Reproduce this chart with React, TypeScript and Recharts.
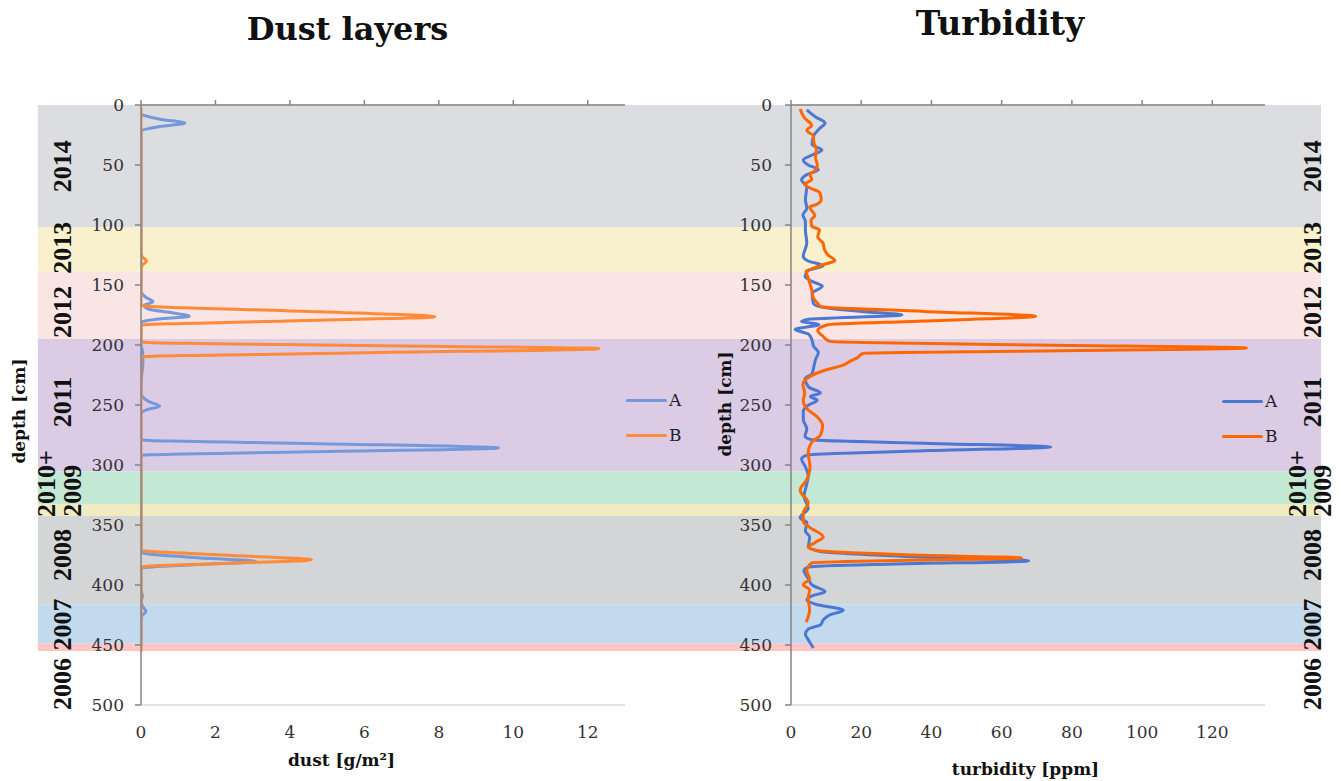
import React from "react";
import {
  LineChart,
  Line,
  XAxis,
  YAxis,
  CartesianGrid,
  ReferenceArea,
  ReferenceDot,
  Legend,
} from "recharts";

// depth [cm], value
const dustA: [number, number][] = [
  [8, 0], [12, 0.55], [15, 1.18], [18, 0.5], [22, 0], [60, 0], [120, 0], [155, 0],
  [160, 0.12], [164, 0.32], [167, 0.08], [170, 0.2], [173, 0.8], [176, 1.3], [178, 0.6], [181, 0],
  [200, 0], [205, 0.04], [215, 0.05], [225, 0.02], [240, 0], [247, 0.2], [251, 0.5], [254, 0.15],
  [257, 0], [279, 0], [282, 4.5], [285.8, 9.6], [289, 4.5], [292, 0], [330, 0], [373, 0],
  [377, 1.4], [380.5, 3.1], [383, 1.5], [386, 0], [404, 0], [409, 0.04], [414, 0], [418, 0.05],
  [422, 0.13], [426, 0.02], [432, 0], [452, 0],
];

const dustB: [number, number][] = [
  [2, 0], [124, 0], [127, 0.05], [130, 0.15], [133, 0.05], [136, 0], [167, 0], [171.5, 3.9],
  [176.4, 7.9], [180, 3.9], [183.5, 0], [197.5, 0], [200.5, 6], [203, 12.3], [206.5, 6], [210, 0],
  [371, 0], [375, 2.2], [379, 4.58], [382, 2.2], [385, 0], [456, 0],
];

const turbA: [number, number][] = [
  [4, 4.5], [10, 7], [15, 9.7], [20, 8], [26, 6.4], [33, 6], [37.5, 8.8], [41.7, 6], [45.8, 3.5],
  [50, 4.9], [54, 7.8], [58, 4.5], [62.5, 3], [68, 4.5], [79, 4.1], [86, 4.5], [91.7, 3.4],
  [97, 4.1], [104, 4.1], [115, 4.5], [126, 3.5], [130, 4.9], [134, 9.2], [138, 4.9], [143, 4],
  [147, 6], [151, 8.9], [157, 6], [165.5, 6.4], [169, 10], [172, 20], [175, 31.6], [178.5, 5],
  [180.5, 3], [183, 8], [187, 1.2], [191, 5], [196, 6], [201, 6.4], [206, 7.8], [212, 7],
  [218, 6.5], [224, 6], [228, 4], [235, 5], [240, 8.4], [243, 5.5], [246, 7.5], [250, 5],
  [255, 3.5], [262, 3.5], [270, 4.5], [276, 4], [279, 6], [282, 40], [285, 74], [288, 40],
  [291.5, 5], [295, 3], [301, 4], [309, 4.9], [318, 4.3], [326, 3.7], [336, 4.9], [344, 2.6],
  [348, 4.5], [355, 4.1], [360, 5.3], [368, 5], [372, 8], [376.5, 35], [380, 67.7], [382.5, 30],
  [385, 5], [388, 3.7], [395, 5], [400, 6], [405.6, 9.7], [409, 6], [412.5, 4.5], [416, 7],
  [421, 14.9], [425, 11], [429, 9.2], [433, 8.5], [436.7, 4.9], [440.8, 4.1], [446, 5], [452.5, 6.4],
];

const turbB: [number, number][] = [
  [3.4, 2.6], [11, 3.9], [17, 5.9], [21, 4.5], [26, 6.4], [31, 6.5], [37, 7.2], [44, 7], [50, 7.5],
  [54, 7.1], [58, 5.4], [62, 5.9], [66, 3.9], [69, 5.3], [73, 8.2], [79, 8.6], [83, 7.2], [85, 5.3],
  [92, 6.8], [96, 5.7], [101, 5.9], [104, 8.1], [110, 7.6], [115, 9.1], [121, 9.6], [125, 10.5],
  [129.7, 12.5], [133, 9.2], [136, 6.4], [138.6, 4.3], [144, 4.9], [148, 5.3], [154, 5.9],
  [161, 6.4], [165, 7.5], [168, 8.5], [172, 38], [176, 69.7], [180, 38], [183.3, 10.2], [188, 7.6],
  [193, 9.2], [197, 11], [200, 70], [202.5, 129.7], [205, 70], [207, 20.5], [211, 18.7],
  [213, 17.2], [217, 14.7], [221, 9.7], [228, 4.5], [233, 3.4], [240, 3.9], [246, 3.5], [253, 4.5],
  [260, 7.5], [267, 9], [275, 8.4], [281, 5.9], [290, 4.9], [301, 5.4], [305, 5.3], [312, 4.5],
  [321, 2.6], [331.6, 4.9], [340, 3.5], [347, 3.5], [352, 5.3], [360, 9.2], [364.7, 6.8],
  [368.6, 4.9], [371.5, 8], [375, 35], [377.5, 65.7], [379.5, 30], [381.5, 5.9], [388, 4.5],
  [395, 5.3], [399.7, 3.5], [404, 5.3], [411, 4.9], [420.8, 5.3], [431, 4.3],
];

const depthTicks = [0, 50, 100, 150, 200, 250, 300, 350, 400, 450, 500];
const dustTicks = [0, 2, 4, 6, 8, 10, 12];
const turbTicks = [0, 20, 40, 60, 80, 100, 120];

// year bands (depth from / to)
const bandFrom = [0, 102, 139, 195, 305.5, 332.5, 342.5, 416, 449];
const bandTo = [102, 139, 195, 305.5, 332.5, 342.5, 416, 449, 455];
const bandColors = ["#dcdde0", "#f9f0cd", "#f9e5e3", "#dbcbe5", "#c3e8d4", "#f1ebc1", "#d4d5d7", "#c3d9ee", "#ffc4c4"];

const yearNames = ["2014", "2013", "2012", "2011", "2010+", "2009", "2008", "2007", "2006"];
const yearDepths = [51, 119, 172.5, 247.5, 315.5, 321.5, 375, 433, 482.5];
const yearColumn = [0, 0, 0, 0, -1, 1, 0, 0, 0];

const seriesNames = ["A", "B"];
const dustColors = ["#7399dc", "#ff8a38"];
const turbColors = ["#4a78d2", "#ff6600"];

const toRows = (pts: [number, number][]) => pts.map(([depth, v]) => ({ depth, v }));

const serif = "DejaVu Serif";
const axisGrey = "#858585";

function LegendBox({ colors }: { colors: string[] }) {
  return (
    <div style={{ fontFamily: serif, fontSize: 17, color: "#222" }}>
      {seriesNames.map((n, i) => (
        <div key={n} style={{ display: "flex", alignItems: "center", height: 35 }}>
          <span style={{ display: "inline-block", width: 41, height: 3, borderRadius: 2, background: colors[i], marginRight: 2 }} />
          <span>{n}</span>
        </div>
      ))}
    </div>
  );
}

interface PanelProps {
  width: number;
  left: number;
  margin: { left: number; right: number };
  domain: [number, number];
  ticks: number[];
  series: [number, number][][];
  colors: string[];
  bandX: [number, number];
  yearX: number[]; // for column -1, 0, 1
  legendPos: { left: number; top: number };
  tickMargin: number;
}

function Panel(p: PanelProps) {
  return (
    <div style={{ position: "absolute", left: p.left, top: 0 }}>
      <LineChart
        width={p.width}
        height={781}
        layout="vertical"
        margin={{ top: 100, bottom: 36, left: p.margin.left, right: p.margin.right }}
      >
        {bandFrom.map((f, i) => (
          <ReferenceArea
            key={"band" + i}
            y1={f}
            y2={bandTo[i]}
            x1={p.bandX[0]}
            x2={p.bandX[1]}
            fill={bandColors[i]}
            fillOpacity={1}
            stroke="none"
            ifOverflow="visible"
          />
        ))}
        <CartesianGrid vertical={false} stroke="#c4c4c4" strokeWidth={1} />
        <XAxis
          type="number"
          domain={p.domain}
          ticks={p.ticks}
          allowDataOverflow
          axisLine={false}
          tickLine={false}
          tickSize={0}
          tickMargin={21}
          height={40}
          tick={{ fontFamily: serif, fontSize: 17, fill: "#333" }}
        />
        <XAxis
          xAxisId="top"
          orientation="top"
          type="number"
          domain={p.domain}
          ticks={p.ticks}
          allowDataOverflow
          height={5}
          tick={() => <g />}
          tickSize={5}
          tickLine={{ stroke: axisGrey, strokeWidth: 1.5 }}
          axisLine={{ stroke: axisGrey, strokeWidth: 1.5 }}
        />
        <YAxis
          type="number"
          dataKey="depth"
          domain={[0, 500]}
          ticks={depthTicks}
          allowDataOverflow
          width={60}
          tickSize={6}
          tickMargin={p.tickMargin}
          tickLine={{ stroke: axisGrey, strokeWidth: 1.5 }}
          axisLine={{ stroke: axisGrey, strokeWidth: 1.5 }}
          tick={{ fontFamily: serif, fontSize: 17, fill: "#333" }}
        />
        {yearNames.map((name, i) => (
          <ReferenceDot
            key={"yr" + i}
            x={p.yearX[yearColumn[i] + 1]}
            y={yearDepths[i]}
            r={0}
            ifOverflow="visible"
            shape={(d: any) => (
              <text
                x={d.cx}
                y={d.cy}
                transform={`rotate(-90 ${d.cx} ${d.cy})`}
                textAnchor="middle"
                dominantBaseline="central"
                fontFamily="Liberation Serif"
                fontWeight="bold"
                fontSize={26}
                fill="#111"
              >
                {name}
              </text>
            )}
          />
        ))}
        {p.series.map((s, i) => (
          <Line
            key={seriesNames[i]}
            name={seriesNames[i]}
            data={toRows(s)}
            dataKey="v"
            type="monotone"
            stroke={p.colors[i]}
            strokeWidth={3}
            dot={false}
            activeDot={false}
            isAnimationActive={false}
          />
        ))}
        <Legend
          layout="vertical"
          align="center"
          verticalAlign="middle"
          wrapperStyle={{ left: p.legendPos.left, top: p.legendPos.top, width: 70 }}
          content={() => <LegendBox colors={p.colors} />}
        />
      </LineChart>
    </div>
  );
}

export default function App() {
  return (
    <div style={{ position: "absolute", left: 0, top: 0, width: 1341, height: 781, background: "#fff", overflow: "hidden" }}>
      <Panel
        width={700}
        left={0}
        margin={{ left: 81, right: 75 }}
        domain={[0, 13]}
        ticks={dustTicks}
        series={[dustA, dustB]}
        colors={dustColors}
        bandX={[-2.77, 15.1]}
        yearX={[-2.55, -2.11, -1.84]}
        legendPos={{ left: 626, top: 382.5 }}
        tickMargin={11}
      />
      <Panel
        width={641}
        left={700}
        margin={{ left: 31, right: 76 }}
        domain={[0, 135]}
        ticks={turbTicks}
        series={[turbA, turbB]}
        colors={turbColors}
        bandX={[-26.2, 150.95]}
        yearX={[144.2, 148.6, 151.3]}
        legendPos={{ left: 522, top: 383.5 }}
        tickMargin={13}
      />
      <svg width={1341} height={781} style={{ position: "absolute", left: 0, top: 0, pointerEvents: "none" }}>
        <g fontFamily={serif} fontWeight="bold" fill="#111">
          <text x={347.5} y={40} textAnchor="middle" fontSize={32}>Dust layers</text>
          <text x={1000} y={35} textAnchor="middle" fontSize={33}>Turbidity</text>
          <text x={341.5} y={766} textAnchor="middle" fontSize={17}>dust [g/m²]</text>
          <text x={1025.5} y={775} textAnchor="middle" fontSize={17}>turbidity [ppm]</text>
          <text x={19} y={411} textAnchor="middle" dominantBaseline="central" fontSize={17} transform="rotate(-90 19 411)">depth [cm]</text>
          <text x={725} y={404} textAnchor="middle" dominantBaseline="central" fontSize={17} transform="rotate(-90 725 404)">depth [cm]</text>
        </g>
      </svg>
    </div>
  );
}
